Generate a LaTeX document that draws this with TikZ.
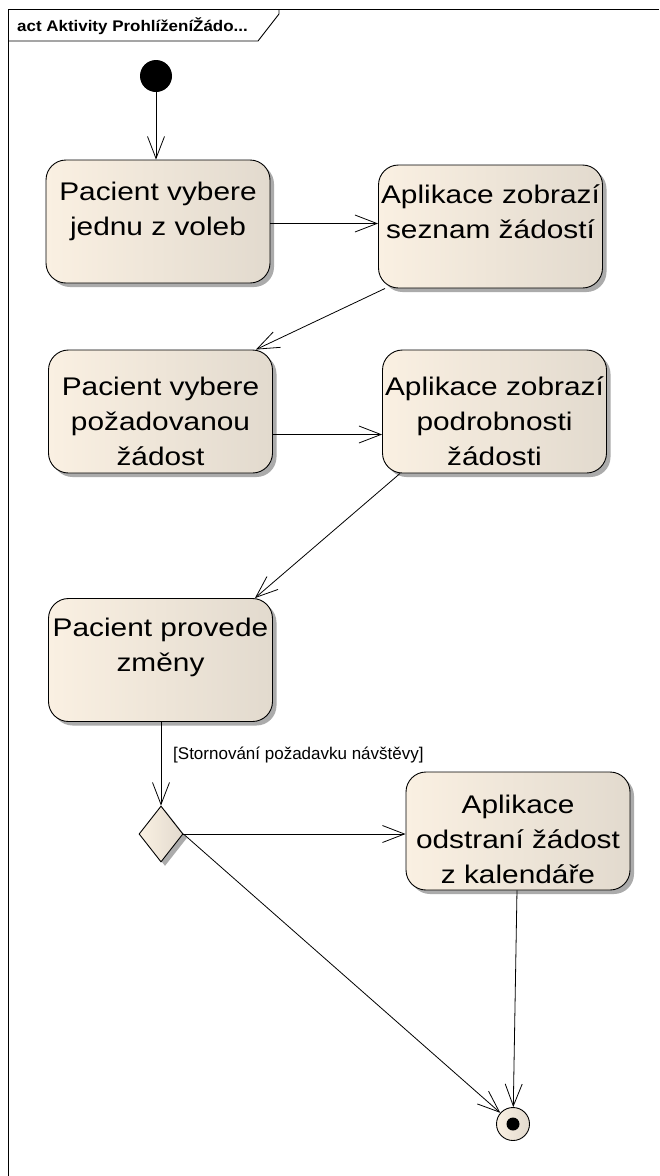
\documentclass[tikz,border=0pt]{standalone}
\usepackage{fontspec}
\setmainfont{Liberation Sans}
\newfontfamily\boxfont{Liberation Sans}[FakeStretch=1.17]
\newfontfamily\headfont{Liberation Sans}[FakeStretch=1.1]
\usetikzlibrary{arrows.meta,shapes.geometric,shadows,calc}

\definecolor{actfill}{RGB}{250,240,226}
\definecolor{actedge}{RGB}{226,218,206}
\definecolor{actshadow}{RGB}{150,150,150}

\tikzset{
  actshade/.style={left color=actfill, middle color=actfill, right color=actedge},
  actbox/.style={rectangle, rounded corners=20pt, draw=black, line width=0.9pt,
    actshade, inner sep=0pt, minimum width=224pt, minimum height=123pt,
    drop shadow={shadow xshift=4pt, shadow yshift=-4pt, fill=actshadow, opacity=0.8}},
  acttext/.style={anchor=north, inner sep=0pt, align=center,
    font=\boxfont\fontsize{25.5}{35}\selectfont},
  decision/.style={diamond, draw=black, line width=0.9pt, actshade, inner sep=0pt,
    minimum width=44pt, minimum height=56pt,
    drop shadow={shadow xshift=4pt, shadow yshift=-4pt, fill=actshadow, opacity=0.8}},
  flow/.style={draw=black, line width=0.8pt,
    -{Straight Barb[length=22pt, width=17pt, line width=0.8pt]}},
  frameline/.style={draw=black, line width=0.9pt},
}

\begin{document}
\begin{tikzpicture}[x=1pt, y=-1pt]
  \useasboundingbox (0,0) rectangle (659,1176);
  \fill[white] (0,0) rectangle (659,1176);

  % diagram frame with its name tab
  \draw[frameline] (659,9) -- (8,9) -- (8,1176);
  \draw[frameline] (8,41) -- (258,41) -- (279,14) -- (279,9);
  \node[anchor=base west, inner sep=0pt,
        font=\headfont\bfseries\fontsize{15.4}{18}\selectfont]
        (title) at (17,31) {act Aktivity ProhlíženíŽádo...};

  % start and end
  \node[circle, fill=black, minimum size=32pt, inner sep=0pt] (ini) at (156,76) {};
  \node[circle, draw=black, line width=0.9pt, actshade, minimum size=33pt, inner sep=0pt] (fin) at (513,1124) {};
  \node[circle, fill=black, minimum size=13pt, inner sep=0pt] (fincore) at (fin.center) {};

  % actions
  \node[actbox] (b1) at (158,221.5) {};
  \node[acttext] (t1) at (158,176) {\rule{0pt}{24pt}Pacient vybere\\jednu z voleb};

  \node[actbox] (b2) at (490.5,226.5) {};
  \node[acttext] (t2) at (490.5,179) {\rule{0pt}{24pt}Aplikace zobrazí\\seznam žádostí};

  \node[actbox] (b3) at (160.5,411.5) {};
  \node[acttext] (t3) at (160.5,371) {\rule{0pt}{24pt}Pacient vybere\\požadovanou\\žádost};

  \node[actbox] (b4) at (494.5,411.5) {};
  \node[acttext] (t4) at (494.5,371) {\rule{0pt}{24pt}Aplikace zobrazí\\podrobnosti\\žádosti};

  \node[actbox] (b5) at (160.5,660) {};
  \node[acttext] (t5) at (160.5,612) {\rule{0pt}{24pt}Pacient provede\\změny};

  \node[actbox, minimum height=118pt] (b6) at (518,831) {};
  \node[acttext] (t6) at (518,789) {\rule{0pt}{24pt}Aplikace\\odstraní žádost\\z kalendáře};

  % decision
  \node[decision] (dia) at (161,834) {};
  \node[anchor=base west, inner sep=0pt, font=\fontsize{17}{20}\selectfont]
        (guard) at (173,759) {[Stornování požadavku návštěvy]};

  % control flows
  \draw[flow] (ini) -- (ini |- b1.north);
  \draw[flow] ([yshift=-2pt]b1.east) -- ([yshift=-2pt]b1.east -| b2.west);
  \draw[flow] ($(b2.south west)+(7,0)$) -- ($(b3.north east)+(-17,0)$);
  \draw[flow] ([yshift=-23pt]b3.east) -- ([yshift=-23pt]b3.east -| b4.west);
  \draw[flow] ($(b4.south west)+(18,0)$) -- ($(b5.north east)+(-18,0)$);
  \draw[flow] (b5.south -| dia.north) -- (dia.north);
  \draw[flow] (dia.east) -- (dia.east -| b6.west);
  \draw[flow] (dia.east) -- (fin);
  \draw[flow] (b6) -- (fin);
\end{tikzpicture}
\end{document}
